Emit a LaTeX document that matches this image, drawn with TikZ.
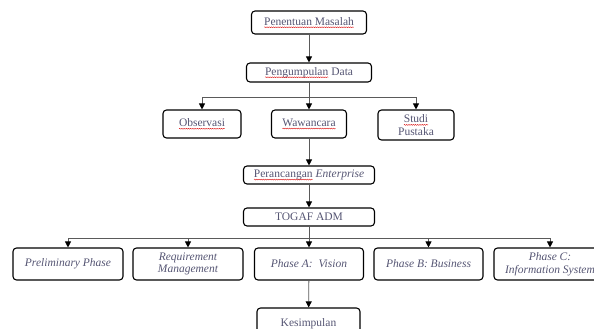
\documentclass[tikz,border=0pt]{standalone}
\usepackage{fontspec}
\setmainfont{Liberation Serif}
\usetikzlibrary{arrows.meta,decorations.pathmorphing}
\definecolor{txt}{RGB}{85,85,115}
\definecolor{wire}{RGB}{90,90,90}
\newcommand\redwave[1]{\tikz[baseline=(w.base)]{\node[inner sep=0pt, outer sep=0pt, minimum width=0pt, minimum height=0pt, draw=none, anchor=base west] (w) at (0,0) {#1};
  \draw[red!85!black, line width=0.35pt, sharp corners, decorate, decoration={snake,amplitude=0.5pt,segment length=2.2pt}] ([yshift=-2.2pt]w.base west) -- ([yshift=-2.2pt]w.base east);}}
\tikzset{
  box/.style={draw=black, line width=1.1pt, rounded corners=3.5pt, inner sep=0pt,
    align=center, text=txt, font=\fontsize{11.5}{12.5}\selectfont},
  ibox/.style={box, font=\fontsize{11.5}{12.5}\selectfont\itshape},
  wirearrow/.style={draw=wire, line width=0.8pt, -{Triangle[length=6pt,width=6pt,color=black]}},
  wireline/.style={draw=wire, line width=0.8pt}
}
\begin{document}
\begin{tikzpicture}[x=1pt,y=-1pt]
\useasboundingbox (0,0) rectangle (594,329);
\node[box, minimum width=115pt, minimum height=23pt] (pm) at (309,22.5) {\redwave{Penentuan Masalah}};
\node[box, minimum width=125pt, minimum height=19pt] (pd) at (309,72.5) {\redwave{Pengumpulan} Data};
\node[box, minimum width=78pt, minimum height=28pt] (obs) at (202,124) {\redwave{Observasi}};
\node[box, minimum width=75pt, minimum height=28pt] (waw) at (309,124) {\redwave{Wawancara}};
\node[box, minimum width=76pt, minimum height=30pt] (stu) at (416,125) {\redwave{Studi}\\Pustaka};
\node[box, minimum width=131pt, minimum height=18pt] (pe) at (309,175) {\redwave{Perancangan} \textit{Enterprise}};
\node[box, minimum width=131pt, minimum height=18pt] (tog) at (309,217) {TOGAF ADM};
\node[ibox, minimum width=110pt, minimum height=32pt] (pre) at (68,264) {Preliminary Phase};
\node[ibox, minimum width=110pt, minimum height=32pt] (req) at (188,264) {Requirement\\Management};
\node[ibox, minimum width=109pt, minimum height=32pt] (pa) at (309,264) {Phase A:\ \ Vision};
\node[ibox, minimum width=109pt, minimum height=32pt] (pb) at (428.5,264) {Phase B: Business};
\node[ibox, minimum width=112pt, minimum height=32pt] (pc) at (550,264) {Phase C:\\Information System};
\node[box, minimum width=103pt, minimum height=32pt] (kes) at (308.5,324) {Kesimpulan};
\draw[wirearrow] (pm) -- (pd);
\draw[wireline] (pd.south) -- ++(0,15) coordinate (j1);
\draw[wirearrow] (j1) -| (obs.north);
\draw[wirearrow] (j1) -| (stu.north);
\draw[wirearrow] (j1) -- (waw.north);
\draw[wirearrow] (waw) -- (pe);
\draw[wirearrow] (pe) -- (tog);
\draw[wireline] (tog.south) -- ++(0,12) coordinate (j2);
\draw[wirearrow] (j2) -| (pre.north);
\draw[wirearrow] (j2) -| (req.north);
\draw[wirearrow] (j2) -| (pb.north);
\draw[wirearrow] (j2) -| (pc.north);
\draw[wirearrow] (j2) -- (pa.north);
\draw[wirearrow] (pa) -- (kes);
\end{tikzpicture}
\end{document}
